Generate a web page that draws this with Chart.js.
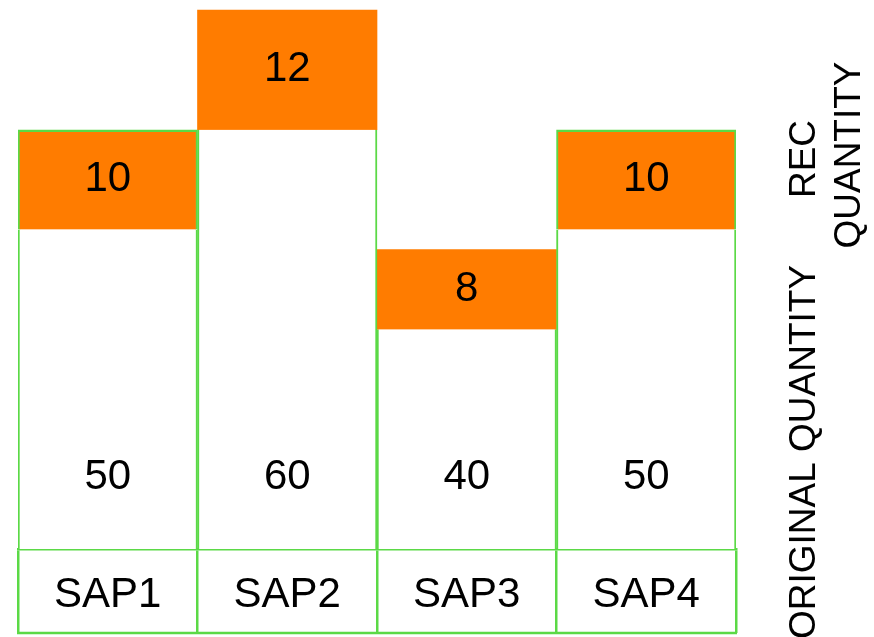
<!DOCTYPE html>
<html>
<head>
<meta charset="utf-8">
<title>SAP quantities</title>
<script src="https://cdn.jsdelivr.net/npm/chart.js@4.4.1/dist/chart.umd.min.js"></script>
<style>
  html, body { margin: 0; padding: 0; background: #fff; }
  #wrap { width: 874px; height: 637px; position: relative; }
</style>
</head>
<body>
<div id="wrap"><canvas id="grafico"></canvas></div>
<script>
// datos
const categorias = ["SAP1", "SAP2", "SAP3", "SAP4"];
const cantidadOriginal = [50, 60, 40, 50];
const cantidadRec = [10, 12, 8, 10];

const verde = "#5bd946";
const naranja = "#ff7c00";
const fuente = "'Liberation Sans', Arial, sans-serif";

// valores escritos sobre cada barra + textos laterales
const etiquetasPlugin = {
    id: "etiquetas",
    afterDatasetsDraw(chart) {
        const ctx = chart.ctx;
        const area = chart.chartArea;
        ctx.save();
        ctx.fillStyle = "#000";
        ctx.font = "42px " + fuente;
        ctx.textAlign = "center";
        ctx.textBaseline = "middle";

        chart.getDatasetMeta(0).data.forEach((bar, i) => {
            ctx.fillText(String(cantidadOriginal[i]), bar.x, area.bottom - 72);
        });
        chart.getDatasetMeta(1).data.forEach((bar, i) => {
            ctx.fillText(String(cantidadRec[i]), bar.x, (bar.y + bar.base) / 2);
        });

        // linea inferior de la fila de categorias
        ctx.strokeStyle = verde;
        ctx.lineWidth = 2.5;
        ctx.beginPath();
        ctx.moveTo(area.left - 1, area.bottom + 84);
        ctx.lineTo(area.right + 1, area.bottom + 84);
        ctx.stroke();

        // textos verticales a la derecha
        ctx.font = "37px " + fuente;
        ctx.textBaseline = "alphabetic";
        const vertical = (texto, x, y) => {
            ctx.save();
            ctx.translate(x, y);
            ctx.rotate(-Math.PI / 2);
            ctx.fillText(texto, 0, 0);
            ctx.restore();
        };
        vertical("ORIGINAL QUANTITY", 815, 452);
        vertical("REC", 815, 159);
        vertical("QUANTITY", 860, 155);
        ctx.restore();
    }
};

const ctx = document.getElementById("grafico").getContext("2d");
const grafico = new Chart(ctx, {
    type: "bar",
    data: {
        labels: categorias,
        datasets: [
            {
                label: "ORIGINAL QUANTITY",
                data: cantidadOriginal,
                backgroundColor: "#ffffff",
                borderColor: verde,
                borderWidth: { left: 2, right: 2, top: 0, bottom: 0 },
                barPercentage: 1,
                categoryPercentage: 1
            },
            {
                label: "REC QUANTITY",
                data: cantidadRec,
                backgroundColor: naranja,
                borderColor: verde,
                // solo SAP1 y SAP4 llevan marco verde
                borderWidth: (c) => (c.dataIndex === 0 || c.dataIndex === 3)
                    ? { left: 2, right: 2, top: 2.5, bottom: 0 } : 0,
                barPercentage: 1,
                categoryPercentage: 1
            }
        ]
    },
    options: {
        responsive: true,
        maintainAspectRatio: false,
        animation: false,
        layout: { padding: { left: 18, right: 138, top: 0, bottom: 0 } },
        plugins: {
            legend: { display: false },
            tooltip: { enabled: false },
            title: { display: false }
        },
        scales: {
            x: {
                stacked: true,
                grid: {
                    offset: true,
                    drawOnChartArea: false,
                    drawTicks: true,
                    tickLength: 84,
                    color: verde,
                    lineWidth: 2.5
                },
                border: { display: true, color: verde, width: 2.5 },
                ticks: {
                    color: "#000",
                    font: { size: 42, family: fuente },
                    padding: -63,
                    maxRotation: 0,
                    autoSkip: false
                },
                afterFit: (escala) => { escala.height = 88; }
            },
            y: {
                stacked: true,
                display: false,
                min: 18,
                max: 73
            }
        }
    },
    plugins: [etiquetasPlugin]
});
</script>
</body>
</html>
